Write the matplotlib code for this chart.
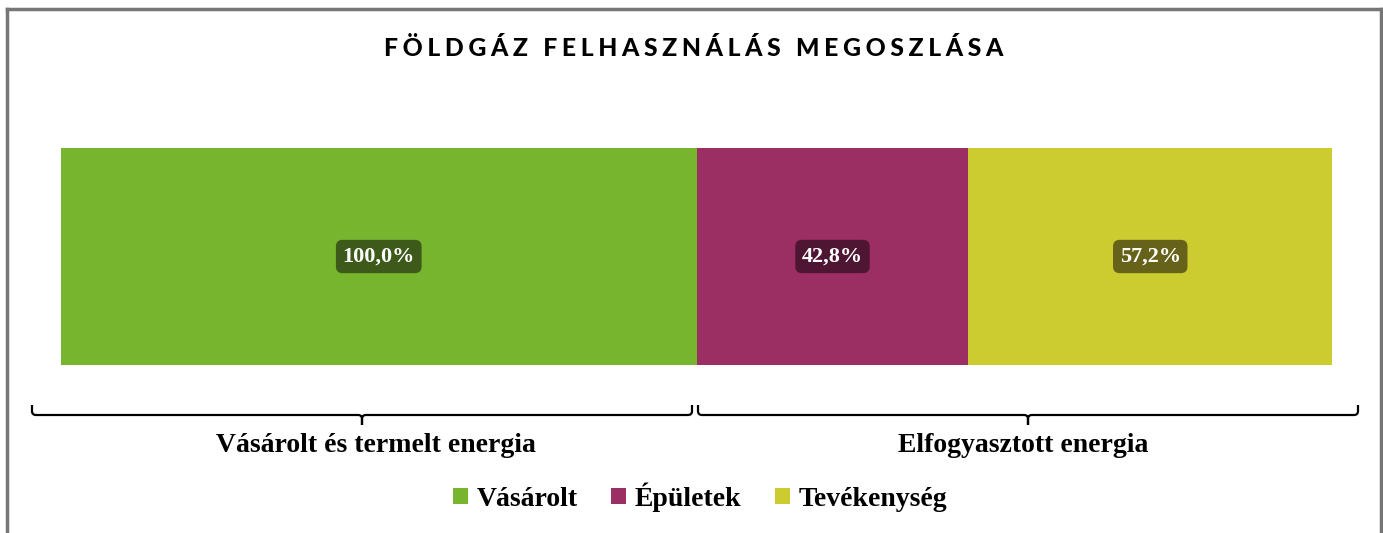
import matplotlib.pyplot as plt
from matplotlib.path import Path
from matplotlib.patches import PathPatch

# adatok
csoportok = ["Vásárolt és termelt energia", "Elfogyasztott energia"]
sorozatok = ["Vásárolt", "Épületek", "Tevékenység"]
ertekek = [100.0, 42.8, 57.2]
csoport_index = [0, 1, 1]
szinek = ["#78B52E", "#9B2E63", "#CCCC30"]
cimke_szinek = ["#3E5A1B", "#4E1633", "#666219"]
cim = "FÖLDGÁZ FELHASZNÁLÁS MEGOSZLÁSA"

W, H = 1383, 533
fig = plt.figure(figsize=(W / 100, H / 100), dpi=100)
ax = fig.add_axes([61 / W, 1 - 365 / H, (1332 - 61) / W, (365 - 148) / H])

serif = ["Liberation Serif", "DejaVu Serif"]

# egymás mellé rakott szakaszok
bal = 0
for i, (nev, v) in enumerate(zip(sorozatok, ertekek)):
    kezd = csoport_index[i] * 100 if i == 0 or csoport_index[i] != csoport_index[i - 1] else bal
    ax.barh(0, v, left=kezd, height=1, color=szinek[i], label=nev)
    ax.text(kezd + v / 2, 0, f"{v:.1f}%".replace(".", ","), ha="center", va="center",
            color="white", fontsize=16, fontweight="bold", family=serif,
            bbox=dict(boxstyle="round,pad=0.3,rounding_size=0.3", fc=cimke_szinek[i], ec="none"))
    bal = kezd + v

ax.set_xlim(0, 200)
ax.set_ylim(-0.5, 0.5)
ax.axis("off")

# kapcsos zárójelek
def zarojel(x0, x1):
    xm = (x0 + x1) / 2
    p = lambda x, yy: (x / W, 1 - yy / H)
    verts = [p(x0, 405), p(x0, 411), p(x0, 415), p(x0 + 4, 415), p(xm - 4, 415), p(xm, 415), p(xm, 419), p(xm, 425),
             p(xm, 425), p(xm, 419), p(xm, 415), p(xm + 4, 415), p(x1 - 4, 415), p(x1, 415), p(x1, 411), p(x1, 405)]
    codes = [Path.MOVETO, Path.LINETO, Path.CURVE3, Path.CURVE3, Path.LINETO, Path.CURVE3, Path.CURVE3, Path.LINETO,
             Path.MOVETO, Path.LINETO, Path.CURVE3, Path.CURVE3, Path.LINETO, Path.CURVE3, Path.CURVE3, Path.LINETO]
    fig.add_artist(PathPatch(Path(verts, codes), fc="none", ec="black", lw=1.6,
                             transform=fig.transFigure))

zarojel(32, 692)
zarojel(698, 1358)

fig.text(376 / W, 1 - 446 / H, csoportok[0], ha="center", va="center",
         fontsize=20, fontweight="bold", family=serif)
fig.text(1023 / W, 1 - 446 / H, csoportok[1], ha="center", va="center",
         fontsize=20, fontweight="bold", family=serif)

# cím ritkított betűkkel
ritkitott = "\u2009\u2009 \u2009".join("\u2009\u200a".join(szo) for szo in cim.split(" "))
fig.text(694 / W, 1 - 48 / H, ritkitott, ha="center", va="center",
         fontsize=17.8, fontweight="black", family=["Lato", "DejaVu Sans"])

leg = fig.legend(loc="center", bbox_to_anchor=(700 / W, 1 - 497 / H), ncol=3, frameon=False,
                 prop=dict(family=serif, weight="bold", size=20), handlelength=0.55,
                 handleheight=0.55, handletextpad=0.3, columnspacing=1.2)

# keret
szurke = "#767676"
fig.add_artist(plt.Line2D([7 / W, 7 / W], [0, 1 - 9 / H], color=szurke, lw=2.5, transform=fig.transFigure))
fig.add_artist(plt.Line2D([7 / W, 1381 / W], [1 - 9 / H, 1 - 9 / H], color=szurke, lw=2.5, transform=fig.transFigure))
fig.add_artist(plt.Line2D([1381 / W, 1381 / W], [0, 1 - 9 / H], color=szurke, lw=2.5, transform=fig.transFigure))

fig.savefig("out.png", dpi=100)
